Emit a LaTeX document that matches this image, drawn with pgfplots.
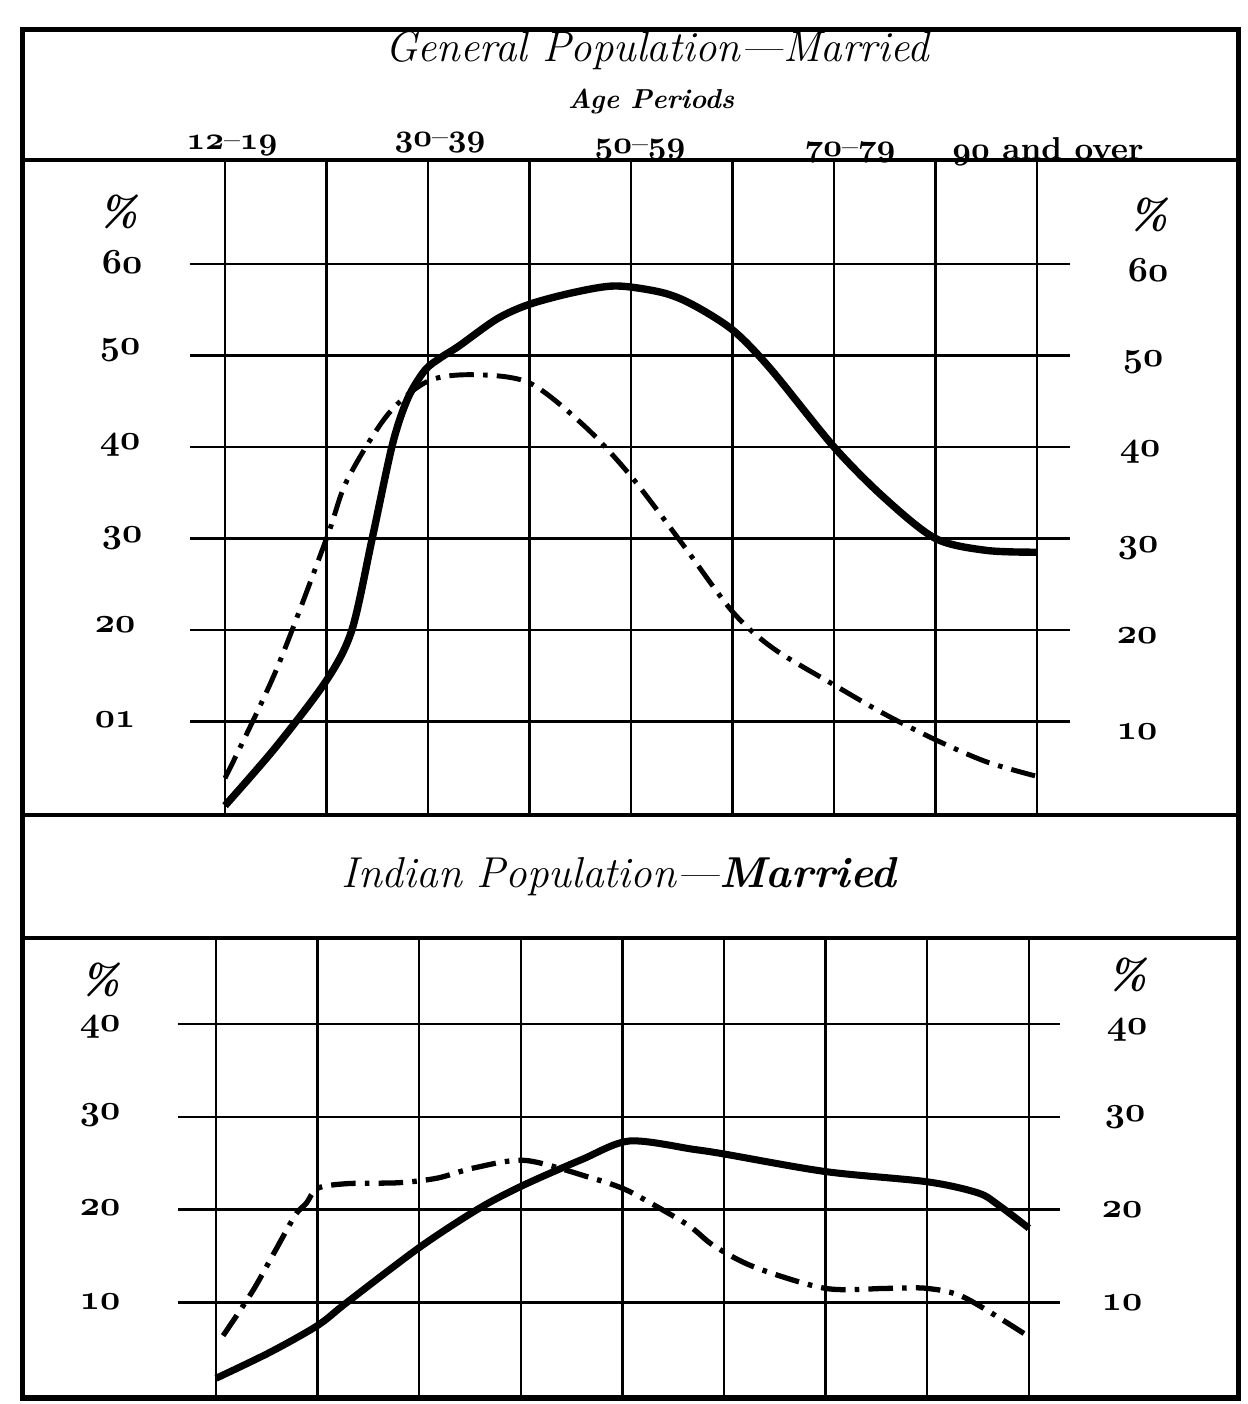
\documentclass[border=0pt]{standalone}
\usepackage{pgfplots}
\pgfplotsset{compat=1.18}
\newcommand{\tl}[1]{{\fontsize{10}{12}\usefont{OML}{cmm}{b}{it}#1}}
\newcommand{\os}[1]{{\usefont{OML}{cmm}{b}{it}#1}}
\newcommand{\pc}{{\fontsize{12}{14}\selectfont\bfseries\itshape\%}}
\begin{document}
\begin{tikzpicture}
\path[use as bounding box] (0cm,0cm) rectangle (12.47cm,14.04cm);
% frame and bands
\draw[line width=0.05cm] (0.22cm,0.06cm) rectangle (12.38cm,13.74cm);
\draw[line width=0.035cm] (0.22cm,12.44cm) -- (12.38cm,12.44cm);
\draw[line width=0.035cm] (0.22cm,5.89cm) -- (12.38cm,5.89cm);
\draw[line width=0.035cm] (0.22cm,4.66cm) -- (12.38cm,4.66cm);

% ---------------- top chart ----------------
\begin{axis}[at={(1.90cm,5.91cm)}, anchor=south west, scale only axis,
  width=8.80cm, height=6.51cm,
  xmin=-0.345, xmax=8.325, ymin=0, ymax=71.15,
  xtick={0,...,8}, ytick={10,20,...,60},
  xticklabels={}, yticklabels={}, major tick length=0pt,
  grid=major, grid style={black, line width=0.7pt},
  axis line style={draw=none}, clip=false]
\addplot[black, line width=2.1pt, smooth] coordinates {
 (0,0.8) (0.5,7.2) (1,14.5) (1.25,20) (1.45,30) (1.65,40.3) (1.8,45.3)
 (1.97,48.4) (2.13,49.8) (2.3,51) (2.68,54) (3,55.6) (3.44,56.9)
 (3.85,57.6) (4.3,56.9) (4.6,55.6) (5,52.8) (5.37,48.6)
 (6,40) (6.5,34.4) (7,30) (7.5,28.7) (8,28.5)};
\addplot[black, line width=1.4pt, smooth, dash pattern=on 7pt off 2.6pt on 1.3pt off 2.6pt] coordinates {
 (0,3.8) (0.5,15.5) (1,30) (1.2,36.3) (1.6,43.5) (2,47.2) (2.45,47.9)
 (3,47) (3.55,42.2) (4,36.8) (4.5,29.5) (5,22) (5.4,18)
 (6,14) (6.5,10.8) (7,8) (7.5,5.6) (8,4)};
\end{axis}

% ---------------- bottom chart ----------------
\begin{axis}[at={(1.78cm,0.09cm)}, anchor=south west, scale only axis,
  width=8.82cm, height=4.57cm,
  xmin=-0.374, xmax=8.307, ymin=0, ymax=49.3,
  xtick={0,...,8}, ytick={10,20,30,40},
  xticklabels={}, yticklabels={}, major tick length=0pt,
  grid=major, grid style={black, line width=0.7pt},
  axis line style={draw=none}, clip=false]
\addplot[black, line width=2pt, smooth] coordinates {
 (0,1.8) (0.53,4.6) (1,7.5) (1.29,10) (2,15.9) (2.57,20) (3,22.5)
 (3.6,25.4) (4.07,27.4) (4.7,26.5) (5,26) (6,24.1) (7,23) (7.5,21.8)
 (7.7,20.5) (8,18)};
\addplot[black, line width=1.5pt, smooth, dash pattern=on 7pt off 2.6pt on 1.3pt off 2.6pt] coordinates {
 (0.07,6.4) (0.36,11.2) (0.57,15.3) (0.78,19.4) (0.89,20.7) (1,22.3)
 (1.29,22.8) (1.8,22.9) (2.18,23.4) (2.54,24.5) (3.05,25.3) (3.7,23.4)
 (4,22.3) (4.23,21) (4.65,18.3) (4.9,16.1) (5.3,13.8) (6,11.5)
 (6.6,11.5) (7,11.5) (7.37,10.5) (8,6.3)};
\end{axis}

% ---------------- texts ----------------
\node at (6.57cm,13.53cm) {\fontsize{12.2}{14}\selectfont\itshape General Population---Married};
\node at (6.51cm,13.02cm) {\fontsize{7.8}{9}\selectfont\bfseries\itshape Age Periods};
\node at (2.32cm,12.58cm) {\fontsize{8.8}{11}\selectfont\os{12}--\os{19}};
\node at (4.40cm,12.61cm) {\fontsize{8.8}{11}\selectfont\os{30}--\os{39}};
\node at (6.40cm,12.54cm) {\fontsize{8.8}{11}\selectfont\os{50}--\os{59}};
\node at (8.50cm,12.51cm) {\fontsize{8.8}{11}\selectfont\os{70}--\os{79}};
\node at (10.48cm,12.52cm) {\fontsize{9}{11}\selectfont\bfseries\os{90} and over};

\node at (1.18cm,11.92cm) {\pc};
\node at (1.22cm,11.42cm) {\tl{60}};
\node at (1.20cm,10.54cm) {\tl{50}};
\node at (1.20cm,9.59cm) {\tl{40}};
\node at (1.22cm,8.66cm) {\tl{30}};
\node at (1.15cm,7.79cm) {\tl{20}};
\node at (1.15cm,6.84cm) {\tl{01}};
\node at (11.48cm,11.89cm) {\pc};
\node at (11.48cm,11.34cm) {\tl{60}};
\node at (11.43cm,10.42cm) {\tl{50}};
\node at (11.40cm,9.52cm) {\tl{40}};
\node at (11.38cm,8.56cm) {\tl{30}};
\node at (11.37cm,7.68cm) {\tl{20}};
\node at (11.37cm,6.72cm) {\tl{10}};

\node at (6.19cm,5.27cm) {\fontsize{12.3}{14}\selectfont\itshape Indian Population---\bfseries Married};

\node at (1.00cm,4.24cm) {\pc};
\node at (1.00cm,3.77cm) {\tl{40}};
\node at (1.00cm,2.89cm) {\tl{30}};
\node at (1.00cm,1.96cm) {\tl{20}};
\node at (1.00cm,1.02cm) {\tl{10}};
\node at (11.27cm,4.29cm) {\pc};
\node at (11.27cm,3.74cm) {\tl{40}};
\node at (11.25cm,2.87cm) {\tl{30}};
\node at (11.22cm,1.94cm) {\tl{20}};
\node at (11.22cm,1.01cm) {\tl{10}};
\end{tikzpicture}
\end{document}
